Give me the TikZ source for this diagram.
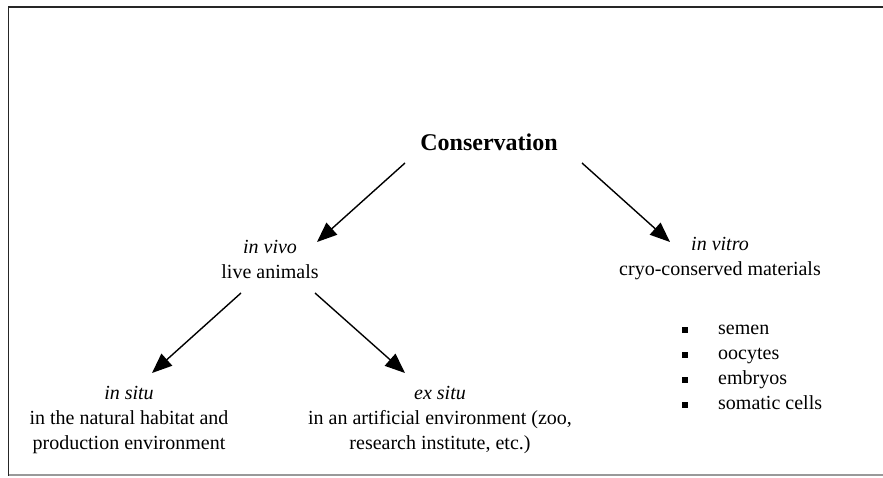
\documentclass[tikz,border=0pt]{standalone}
\usepackage{fontspec}
\setmainfont{Liberation Serif}
\usetikzlibrary{arrows.meta,calc}
\begin{document}
\begin{tikzpicture}[x=1pt,y=-1pt,
 lbl/.style={align=center,inner sep=0pt,font=\fontsize{20}{25}\selectfont},
 arr/.style={line width=1.4pt,-{Triangle[length=20pt,width=16pt]}},
 sq/.style={fill=black,minimum size=6pt,inner sep=0pt},
 itemtxt/.style={anchor=west,inner sep=0pt,text height=14pt,text depth=5pt,font=\fontsize{20}{25}\selectfont}]
\useasboundingbox (0,0) rectangle (883,478);
\draw[line width=1.8pt,black!85] (883,7) -- (8.5,7) -- (8.5,475) -- (883,475);
\draw[line width=1.2pt,black!40] (9,475) -- (883,475);

\node[lbl,font=\fontsize{24}{28}\selectfont\bfseries] (cons) at (489,142) {Conservation};
\node[lbl] (invivo) at (270,259) {\textit{in vivo}\\live animals};
\node[lbl] (invitro) at (720,259) {\textit{in vitro}\\cryo-conserved materials};
\node[lbl] (insitu) at (129,420) {\textit{in situ}\\in the natural habitat and\\production environment};
\node[lbl] (exsitu) at (440,420) {\textit{ex situ}\\in an artificial environment (zoo,\\research institute, etc.)};

\node[sq] (b1) at (685,330) {};
\node[sq] (b2) at (685,355) {};
\node[sq] (b3) at (685,380) {};
\node[sq] (b4) at (685,405) {};
\node[itemtxt] (t1) at (718,330) {semen};
\node[itemtxt] (t2) at (718,355) {oocytes};
\node[itemtxt] (t3) at (718,380) {embryos};
\node[itemtxt] (t4) at (718,405) {somatic cells};

\draw[arr] ($(cons)+(-84,21)$) -- ($(invivo)+(47,-17)$);
\draw[arr] ($(cons)+(93,21)$) -- ($(invitro)+(-50,-17)$);
\draw[arr] ($(invivo)+(-29,34)$) -- ($(insitu)+(23,-47)$);
\draw[arr] ($(invivo)+(45,34)$) -- ($(exsitu)+(-35,-47)$);
\end{tikzpicture}
\end{document}
